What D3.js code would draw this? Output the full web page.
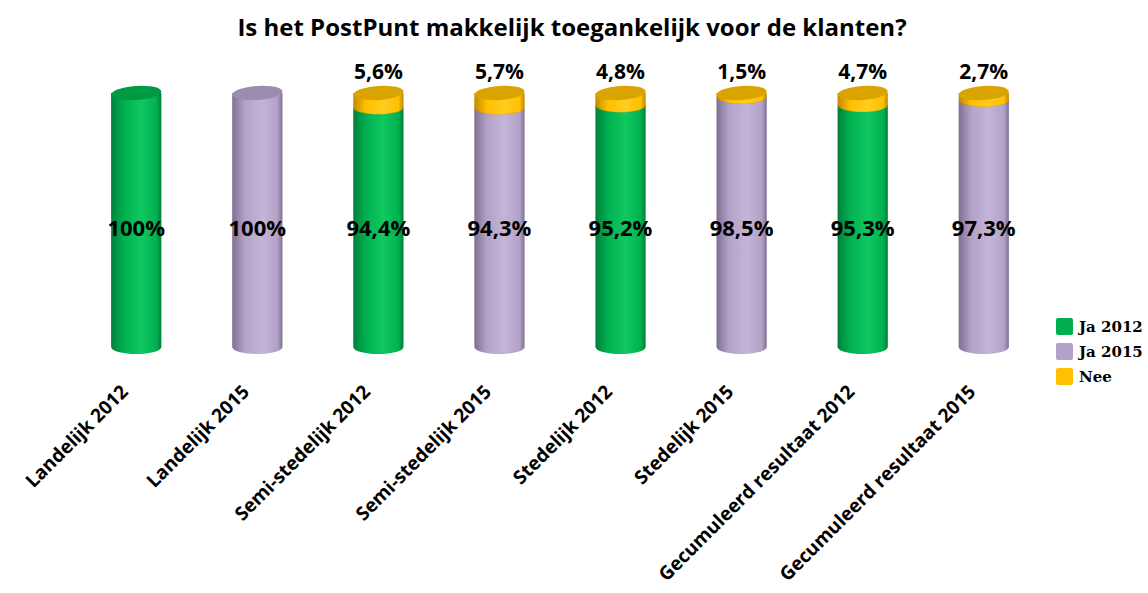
<!DOCTYPE html>
<html>
<head>
<meta charset="utf-8">
<script src="https://cdn.jsdelivr.net/npm/d3@7"></script>
<style>
  body { margin: 0; background: #fff; }
  svg text { font-family: "Open Sans", sans-serif; font-weight: bold; fill: #000; }
  .legend text { font-family: "DejaVu Serif", serif; }
</style>
</head>
<body>
<div id="chart"></div>
<script>
'use strict'

const categories = ['Landelijk 2012', 'Landelijk 2015', 'Semi-stedelijk 2012', 'Semi-stedelijk 2015',
    'Stedelijk 2012', 'Stedelijk 2015', 'Gecumuleerd resultaat 2012', 'Gecumuleerd resultaat 2015'];
const series = ['Ja 2012', 'Ja 2015', 'Ja 2012', 'Ja 2015', 'Ja 2012', 'Ja 2015', 'Ja 2012', 'Ja 2015'];
const jaValues = [100, 100, 94.4, 94.3, 95.2, 98.5, 95.3, 97.3];
const neeValues = [0, 0, 5.6, 5.7, 4.8, 1.5, 4.7, 2.7];
const legendItems = ['Ja 2012', 'Ja 2015', 'Nee'];

let width = 1148, height = 593;
let margin = {top: 93, left: 76, right: 100, bottom: 246};

let colors = {
    'Ja 2012': {base: '#00b050', dark: '#00803a', light: '#10c860', top: '#009a45'},
    'Ja 2015': {base: '#b3a2c7', dark: '#7f6f92', light: '#c4b4d8', top: '#9c8cb0'},
    'Nee': {base: '#ffc000', dark: '#c08a00', light: '#ffcc20', top: '#d9a400'}
};

let svg = d3.select('#chart').append('svg')
    .attr('width', width)
    .attr('height', height);

// Cylinder shading.
let defs = svg.append('defs');
Object.keys(colors).forEach((k, i) => {
    let c = colors[k];
    let g = defs.append('linearGradient')
        .attr('id', 'grad' + i)
        .attr('x1', '0%').attr('x2', '100%').attr('y1', '0%').attr('y2', '0%');
    g.append('stop').attr('offset', '0%').attr('stop-color', c.dark);
    g.append('stop').attr('offset', '25%').attr('stop-color', c.base);
    g.append('stop').attr('offset', '60%').attr('stop-color', c.light);
    g.append('stop').attr('offset', '90%').attr('stop-color', c.base);
    g.append('stop').attr('offset', '100%').attr('stop-color', c.dark);
    c.grad = 'url(#grad' + i + ')';
});

let x = d3.scaleBand()
    .domain(categories)
    .range([margin.left, width - margin.right - 4])
    .paddingInner(0.585)
    .paddingOuter(0.29);

let y = d3.scaleLinear()
    .domain([0, 100])
    .range([height - margin.bottom, margin.top]);

let ry = 7;
let tilt = -4;

// Title.
svg.append('text')
    .attr('x', 572)
    .attr('y', 36)
    .attr('text-anchor', 'middle')
    .style('font-size', '24px')
    .text('Is het PostPunt makkelijk toegankelijk voor de klanten?');

let data = categories.map((c, i) => ({cat: c, ja: jaValues[i], nee: neeValues[i], s: series[i]}));

let cyl = svg.append('g').selectAll('g.cyl')
    .data(data)
    .join('g')
    .attr('class', 'cyl');

function segment(g, d, y0, y1, key) {
    let c = colors[key];
    let x0 = x(d.cat), w = x.bandwidth(), cx = x0 + w / 2;
    let rx = w / 2;
    let top = y(y1), bot = y(y0);
    g.append('path')
        .attr('d', `M${x0},${top} L${x0},${bot} A${rx},${ry} 0 0 0 ${x0 + w},${bot} L${x0 + w},${top} Z`)
        .attr('fill', c.grad);
    return {cx, top, rx, c};
}

cyl.each(function(d) {
    let g = d3.select(this);
    let s1 = segment(g, d, 0, d.ja, d.s);
    let last = s1;
    if (d.nee > 0) {
        last = segment(g, d, d.ja, d.ja + d.nee, 'Nee');
        g.append('path')
            .attr('d', `M${s1.cx - s1.rx},${s1.top} A${s1.rx},${ry} 0 0 0 ${s1.cx + s1.rx},${s1.top}`)
            .attr('fill', 'none')
            .attr('stroke', colors['Nee'].dark)
            .attr('stroke-opacity', 0.25)
            .attr('stroke-width', 1);
    }
    g.append('ellipse')
        .attr('cx', last.cx)
        .attr('cy', last.top)
        .attr('rx', last.rx)
        .attr('ry', ry)
        .attr('transform', `rotate(${tilt},${last.cx},${last.top})`)
        .attr('fill', last.c.top);
});

// Ja labels in the middle.
cyl.append('text')
    .attr('x', d => x(d.cat) + x.bandwidth() / 2)
    .attr('y', d => y(50) + 16)
    .attr('text-anchor', 'middle')
    .style('font-size', '22px')
    .text(d => String(d.ja).replace('.', ',') + '%');

// Nee labels above.
cyl.filter(d => d.nee > 0).append('text')
    .attr('x', d => x(d.cat) + x.bandwidth() / 2)
    .attr('y', d => y(100) - 14)
    .attr('text-anchor', 'middle')
    .style('font-size', '21px')
    .text(d => String(d.nee).replace('.', ',') + '%');

// Category labels.
svg.append('g').selectAll('text')
    .data(categories)
    .join('text')
    .attr('transform', d => `translate(${x(d) + x.bandwidth() / 2 - 7},${y(0) + 46}) rotate(-45)`)
    .attr('text-anchor', 'end')
    .style('font-size', '19px')
    .text(d => d);

// Legend.
let legend = svg.append('g').attr('class', 'legend')
    .selectAll('g')
    .data(legendItems)
    .join('g')
    .attr('transform', (d, i) => `translate(1056,${318 + i * 25})`);

legend.append('rect')
    .attr('width', 17).attr('height', 17)
    .attr('rx', 2)
    .attr('fill', d => colors[d].base);

legend.append('text')
    .attr('x', 23)
    .attr('y', 14)
    .style('font-size', '15px')
    .text(d => d);
</script>
</body>
</html>
